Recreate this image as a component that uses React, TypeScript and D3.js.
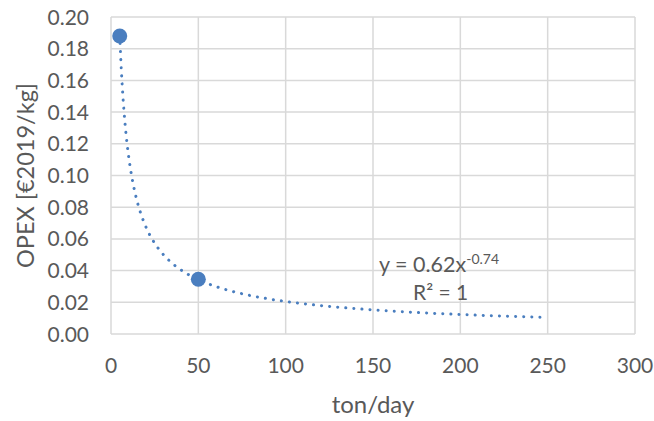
import React from "react";
import * as d3 from "d3";

const xTicks = [0, 50, 100, 150, 200, 250, 300];
const yTicks = [0, 0.02, 0.04, 0.06, 0.08, 0.1, 0.12, 0.14, 0.16, 0.18, 0.2];
const pointsX = [5, 50];
const pointsY = [0.188, 0.0345];
const trendCoef = 0.62;
const trendExp = -0.74;
const trendRange = [5, 250];

const W = 654, H = 421;
const M = { left: 111, right: 19, top: 17, bottom: 87 };
const TEXT = "#595959";
const GRID = "#d9d9d9";
const BLUE = "#4A7EBF";
const FONT = "Lato, 'Open Sans', sans-serif";

export default function App() {
  const x = d3.scaleLinear().domain([0, 300]).range([M.left, W - M.right]);
  const y = d3.scaleLinear().domain([0, 0.2]).range([H - M.bottom, M.top]);
  const samples = d3.range(trendRange[0], trendRange[1] + 0.001, 0.5);
  const line = d3
    .line<number>()
    .x((d) => x(d))
    .y((d) => y(trendCoef * Math.pow(d, trendExp)))
    .curve(d3.curveLinear);
  return (
    <svg width={W} height={H} style={{ position: "absolute", left: 0, top: 0 }} fontFamily={FONT}>
      <rect width={W} height={H} fill="#fff" />
      {xTicks.map((t) => (
        <line key={"gx" + t} x1={x(t)} x2={x(t)} y1={y(0)} y2={y(0.2)} stroke={GRID} strokeWidth={1.5} />
      ))}
      {yTicks.map((t) => (
        <line key={"gy" + t} x1={x(0)} x2={x(300)} y1={y(t)} y2={y(t)} stroke={GRID} strokeWidth={1.5} />
      ))}
      {yTicks.map((t) => (
        <text key={"ty" + t} x={89} y={y(t)} dy="0.36em" textAnchor="end" fontSize={21} fill={TEXT}>
          {t.toFixed(2)}
        </text>
      ))}
      {xTicks.map((t) => (
        <text key={"tx" + t} x={x(t)} y={373} textAnchor="middle" fontSize={21} fill={TEXT}>
          {t}
        </text>
      ))}
      <text x={(x(0) + x(300)) / 2} y={413} textAnchor="middle" fontSize={24} fill={TEXT}>
        ton/day
      </text>
      <text
        transform={`translate(34, ${(y(0) + y(0.2)) / 2}) rotate(-90)`}
        textAnchor="middle"
        fontSize={23.5}
        fill={TEXT}
      >
        OPEX [€2019/kg]
      </text>
      <path
        d={line(samples) || ""}
        fill="none"
        stroke={BLUE}
        strokeWidth={3}
        strokeDasharray="0.1 8"
        strokeLinecap="round"
      />
      {pointsX.map((px, i) => (
        <circle key={"p" + i} cx={x(px)} cy={y(pointsY[i])} r={7.5} fill={BLUE} />
      ))}
      <text x={379} y={272} fontSize={21.5} fill={TEXT}>
        y = 0.62x
        <tspan dy={-8} fontSize={14}>-0.74</tspan>
      </text>
      <text x={413} y={300} fontSize={21} fill={TEXT}>
        R² = 1
      </text>
    </svg>
  );
}
